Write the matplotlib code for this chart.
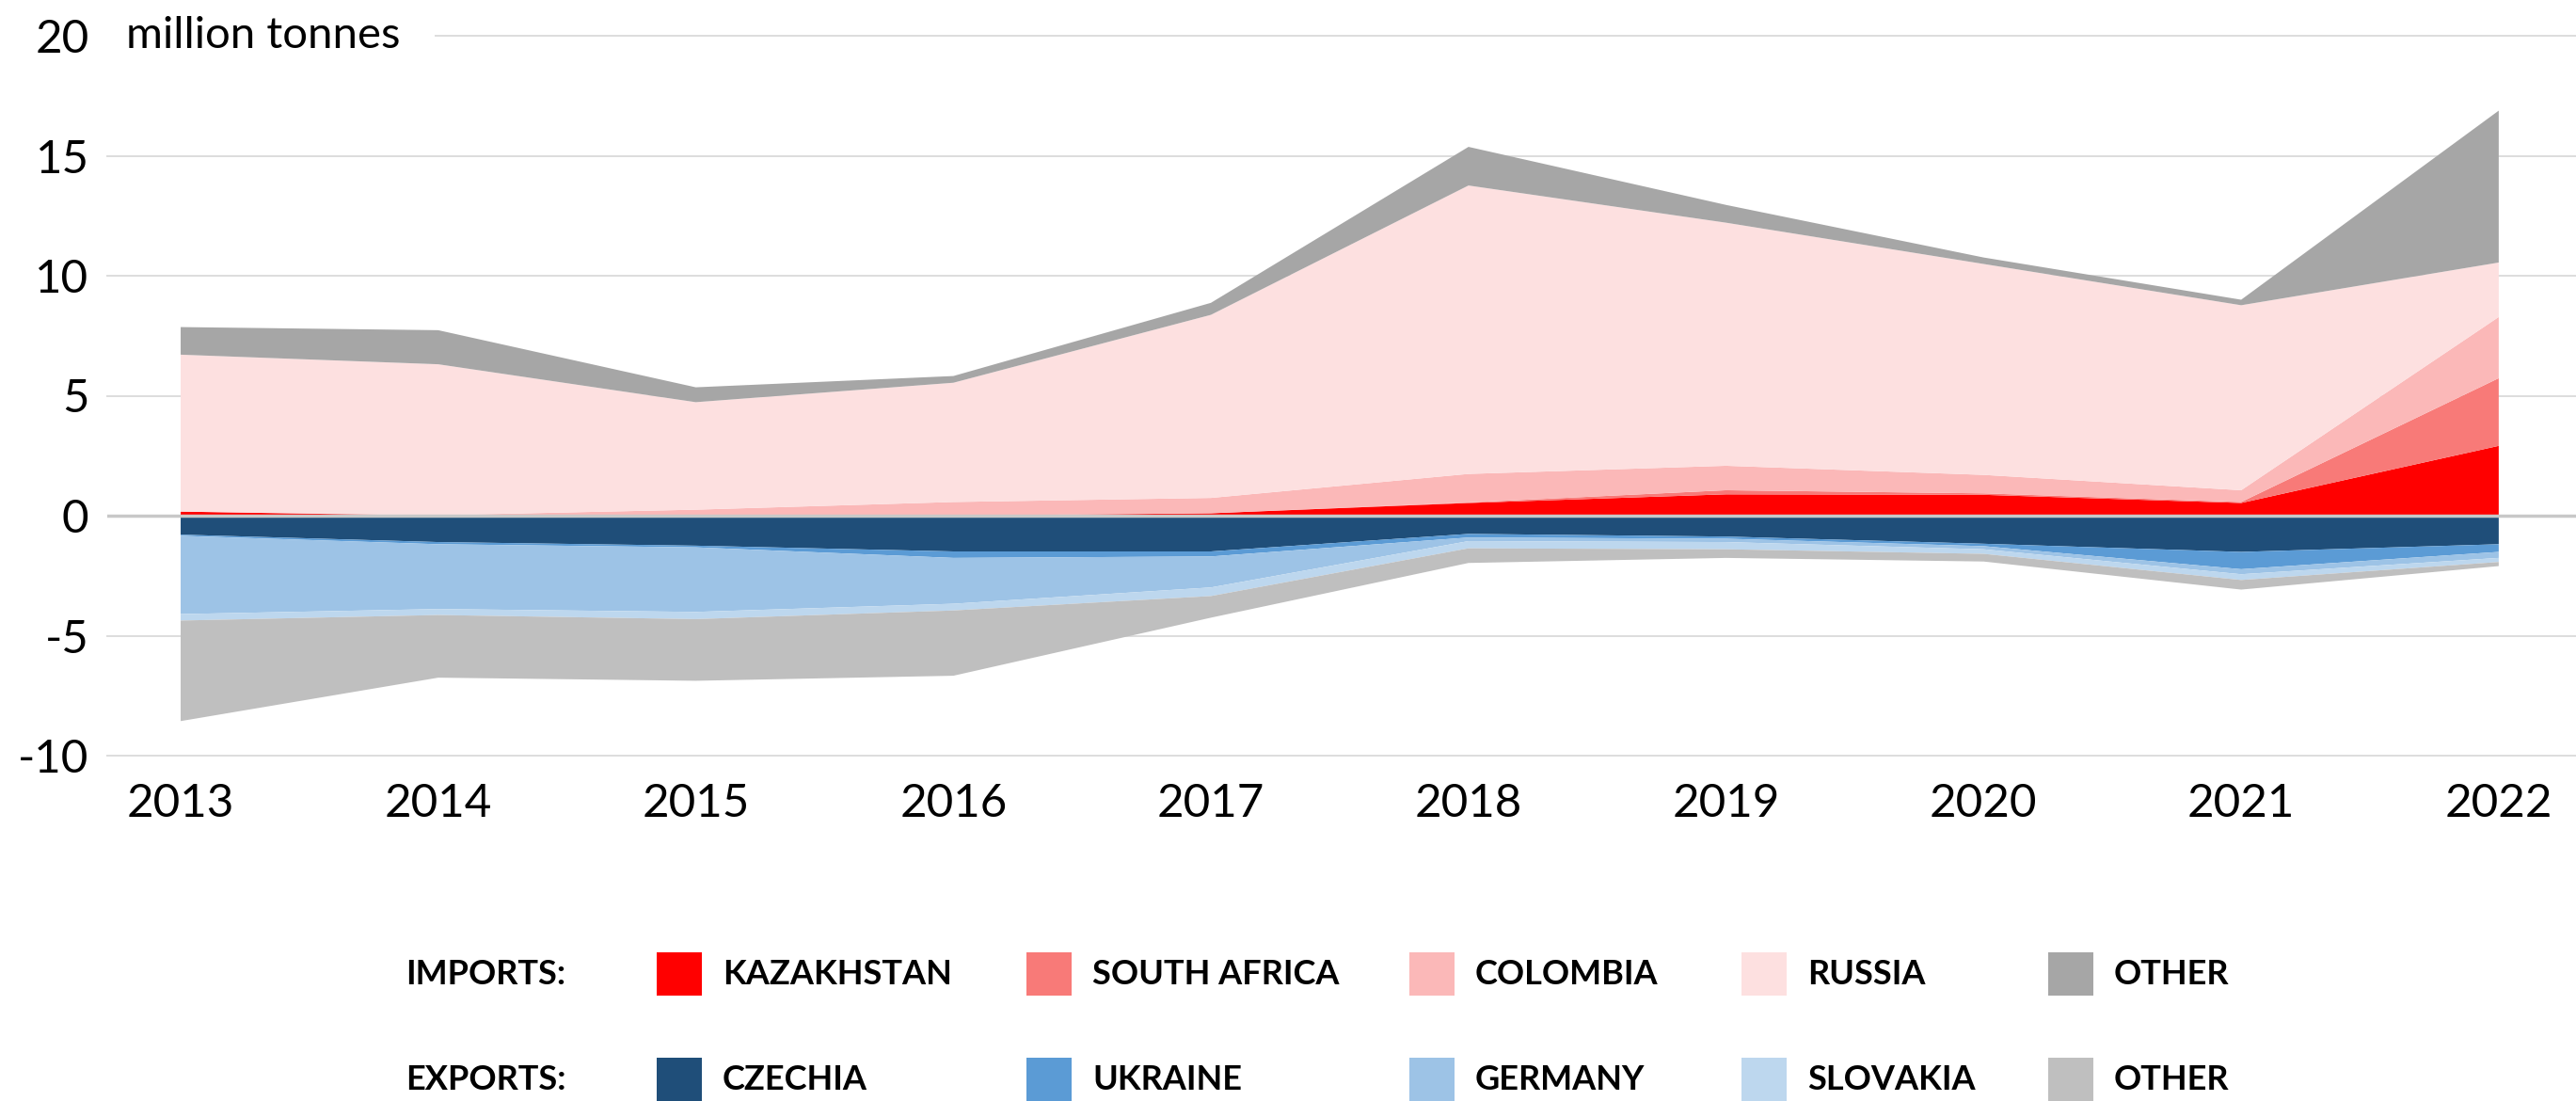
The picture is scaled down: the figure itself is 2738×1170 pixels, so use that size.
import numpy as np
import matplotlib.pyplot as plt
from matplotlib.patches import Rectangle

plt.rcParams['font.family'] = ['Lato', 'DejaVu Sans']

years = [2013, 2014, 2015, 2016, 2017, 2018, 2019, 2020, 2021, 2022]

# Imports (million tonnes)
imp_kazakhstan = [0.17, 0.0, 0.0, 0.0, 0.10, 0.53, 0.89, 0.87, 0.53, 2.91]
imp_south_africa = [0.0, 0.0, 0.0, 0.0, 0.0, 0.02, 0.17, 0.06, 0.04, 2.82]
imp_colombia = [0.0, 0.02, 0.25, 0.57, 0.64, 1.19, 1.02, 0.77, 0.49, 2.55]
imp_russia = [6.54, 6.29, 4.48, 4.97, 7.63, 12.02, 10.13, 8.79, 7.71, 2.27]
imp_other = [1.15, 1.42, 0.62, 0.28, 0.50, 1.61, 0.74, 0.27, 0.23, 6.33]

# Exports (negative, million tonnes)
exp_czechia = [-0.79, -1.10, -1.25, -1.49, -1.49, -0.76, -0.87, -1.17, -1.51, -1.19]
exp_ukraine = [-0.05, -0.09, -0.07, -0.27, -0.21, -0.15, -0.09, -0.10, -0.72, -0.32]
exp_germany = [-3.26, -2.70, -2.69, -1.91, -1.29, -0.15, -0.14, -0.13, -0.21, -0.25]
exp_slovakia = [-0.27, -0.25, -0.30, -0.28, -0.36, -0.30, -0.30, -0.19, -0.24, -0.17]
exp_other = [-4.19, -2.61, -2.57, -2.72, -0.90, -0.61, -0.36, -0.32, -0.40, -0.17]

imp_labels = ['KAZAKHSTAN', 'SOUTH AFRICA', 'COLOMBIA', 'RUSSIA', 'OTHER']
exp_labels = ['CZECHIA', 'UKRAINE', 'GERMANY', 'SLOVAKIA', 'OTHER']
imp_colors = ['#ff0000', '#f87a78', '#fbb8b8', '#fde0e0', '#a6a6a6']
exp_colors = ['#1f4e79', '#5b9bd5', '#9dc3e6', '#bdd7ee', '#bfbfbf']

W, H = 2738, 1170
fig = plt.figure(figsize=(W / 100, H / 100), dpi=100)

# axes box in pixels
ax_left, ax_right, ax_top, ax_bottom = 114, 2738, 38, 803
ax = fig.add_axes([ax_left / W, 1 - ax_bottom / H,
                   (ax_right - ax_left) / W, (ax_bottom - ax_top) / H])

ax.stackplot(years, imp_kazakhstan, imp_south_africa, imp_colombia,
             imp_russia, imp_other, colors=imp_colors, linewidth=0, zorder=2)
ax.stackplot(years, exp_czechia, exp_ukraine, exp_germany,
             exp_slovakia, exp_other, colors=exp_colors, linewidth=0, zorder=2)

ax.set_xlim(2012.715, 2022.30)
ax.set_ylim(-10, 20)
ax.set_xticks(years)
ax.set_yticks([-10, -5, 0, 5, 10, 15, 20])
ax.set_yticklabels(['-10', '-5', '0', '5', '10', '15', '20'])
ax.tick_params(axis='both', length=0, labelsize=35.5, colors='black')
ax.tick_params(axis='y', pad=14)
ax.tick_params(axis='x', pad=21)

for s in ax.spines.values():
    s.set_visible(False)

# gridlines
for v in [-10, -5, 5, 10, 15]:
    ax.axhline(v, color='#dddddd', lw=1.4, zorder=1, clip_on=False)
ax.axhline(20, xmin=(463 - ax_left) / (ax_right - ax_left), color='#dddddd',
           lw=1.4, zorder=1, clip_on=False)
ax.axhline(0, color='#c8c8c8', lw=2.5, zorder=3)

fig.text(134 / W, 1 - 38 / H, 'million tonnes', fontsize=34, va='center', ha='left')

# legend drawn by hand
patch_x = [698, 1091, 1498, 1851, 2177]
label_x = [768, 1161, 1568, 1921, 2247]
rows = [(1035, 'IMPORTS:', imp_labels, imp_colors),
        (1147, 'EXPORTS:', exp_labels, exp_colors)]
for yc, head, labels, cols in rows:
    fig.text(431 / W, 1 - yc / H, head, fontsize=26, fontweight='bold',
             va='center', ha='left')
    for px, lx, lab, c in zip(patch_x, label_x, labels, cols):
        fig.patches.append(Rectangle((px / W, 1 - (yc + 23) / H), 48 / W, 46 / H,
                                     transform=fig.transFigure, facecolor=c,
                                     edgecolor='none'))
        fig.text(lx / W, 1 - yc / H, lab, fontsize=26, fontweight='bold',
                 va='center', ha='left')

fig.savefig('out.png', dpi=100, facecolor='white')
